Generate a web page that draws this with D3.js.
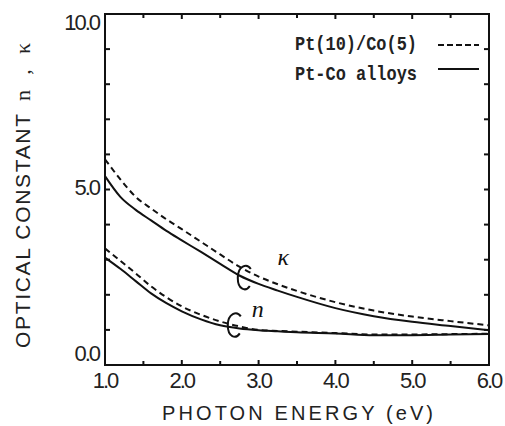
<!DOCTYPE html>
<html><head><meta charset="utf-8">
<script src="https://cdn.jsdelivr.net/npm/d3@7"></script>
<style>body{margin:0;background:#fff}svg{display:block}</style>
</head><body>
<script>
const energy = [1.0,1.2,1.4,1.6,1.8,2.0,2.25,2.5,2.75,3.0,3.25,3.5,4.0,4.5,5.0,5.5,6.0];
const kappaMultilayer = [5.86,5.29,4.79,4.46,4.15,3.87,3.51,3.15,2.80,2.52,2.30,2.11,1.79,1.55,1.38,1.25,1.13];
const kappaAlloy      = [5.38,4.79,4.42,4.12,3.82,3.55,3.22,2.88,2.55,2.31,2.12,1.94,1.62,1.39,1.23,1.11,0.99];
const nMultilayer     = [3.32,2.97,2.61,2.24,1.93,1.67,1.43,1.24,1.10,1.00,0.97,0.95,0.91,0.87,0.87,0.88,0.89];
const nAlloy          = [3.06,2.74,2.39,2.04,1.76,1.53,1.30,1.13,1.04,0.99,0.96,0.93,0.90,0.85,0.85,0.87,0.88];
const xTickLabels = ["1.0","2.0","3.0","4.0","5.0","6.0"];
const yTickLabels = ["0.0","5.0","10.0"];
const legendLabels = ["Pt(10)/Co(5)","Pt-Co alloys"];
const curveLabels = [{t:"κ", e:3.32, v:3.08}, {t:"n", e:2.99, v:1.62}];
const brackets = [{e:2.82, v:2.48}, {e:2.69, v:1.13}];

const W=505,H=426;
const svg=d3.select("body").append("svg").attr("width",W).attr("height",H);
const x=d3.scaleLinear().domain([1,6]).range([105,489]);
const y=d3.scaleLinear().domain([0,10]).range([365,14]);
const yLab=d3.scaleLinear().domain([0,10]).range([353,22]);
const sansFont="'Liberation Sans', Arial, sans-serif";

// frame
svg.append("rect").attr("x",x(1)).attr("y",y(10)).attr("width",x(6)-x(1)).attr("height",y(0)-y(10))
  .attr("fill","none").attr("stroke","#111").attr("stroke-width",2);

// ticks
const xt=d3.range(1.5,6,0.5);
xt.forEach(v=>{
  const L = Number.isInteger(v)?5:4;
  svg.append("line").attr("x1",x(v)).attr("x2",x(v)).attr("y1",y(0)).attr("y2",y(0)-L).attr("stroke","#111").attr("stroke-width",2);
  svg.append("line").attr("x1",x(v)).attr("x2",x(v)).attr("y1",y(10)).attr("y2",y(10)+L).attr("stroke","#111").attr("stroke-width",2);
});
d3.range(1,10,1).forEach(v=>{
  svg.append("line").attr("x1",x(1)).attr("x2",x(1)+5).attr("y1",y(v)).attr("y2",y(v)).attr("stroke","#111").attr("stroke-width",2);
  svg.append("line").attr("x1",x(6)).attr("x2",x(6)-5).attr("y1",y(v)).attr("y2",y(v)).attr("stroke","#111").attr("stroke-width",2);
});

// tick labels
svg.selectAll(".xl").data(xTickLabels).enter().append("text")
  .attr("x",d=>x(+d)).attr("y",388).attr("text-anchor","middle")
  .attr("font-family",sansFont).attr("font-size",22).attr("letter-spacing",-2).attr("fill","#222").text(d=>d);
svg.selectAll(".yl").data(yTickLabels).enter().append("text")
  .attr("x",99).attr("y",d=>yLab(+d)).attr("dy","0.36em").attr("text-anchor","end")
  .attr("font-family",sansFont).attr("font-size",22).attr("letter-spacing",-2).attr("fill","#222").text(d=>d);

// axis titles
svg.append("text").attr("x",162).attr("y",420).attr("font-family",sansFont).attr("font-size",20)
  .attr("textLength",271).attr("lengthAdjust","spacing").attr("fill","#222").text("PHOTON  ENERGY  (eV)");
const yt=svg.append("g").attr("transform","translate(30,0) rotate(-90)");
yt.append("text").attr("x",-348).attr("y",0).attr("font-family",sansFont).attr("font-size",21)
  .attr("textLength",234).attr("lengthAdjust","spacing").attr("fill","#222").text("OPTICAL  CONSTANT");
yt.append("text").attr("x",-101).attr("y",0).attr("font-family","'Liberation Serif', serif").attr("font-size",22)
  .attr("textLength",58).attr("lengthAdjust","spacing").attr("fill","#222").text("n , κ");

// curves
const line=d3.line().x(d=>x(d[0])).y(d=>y(d[1])).curve(d3.curveMonotoneX);
const series=[
  {v:kappaMultilayer,dash:"6,4"},{v:kappaAlloy,dash:null},
  {v:nMultilayer,dash:"6,4"},{v:nAlloy,dash:null}];
series.forEach(s=>{
  svg.append("path").datum(energy.map((e,i)=>[e,s.v[i]])).attr("d",line)
    .attr("fill","none").attr("stroke","#111").attr("stroke-width",2)
    .attr("stroke-dasharray",s.dash);
});

// brackets
brackets.forEach(b=>{
  const cx=x(b.e), cy=y(b.v);
  const p=d3.path();
  p.moveTo(cx+6,cy-9);
  p.bezierCurveTo(cx+2,cy-15,cx-7,cy-12,cx-7,cy);
  p.bezierCurveTo(cx-7,cy+12,cx+1,cy+14,cx+5,cy+8);
  svg.append("path").attr("d",p.toString()).attr("fill","none").attr("stroke","#111").attr("stroke-width",2);
});

// curve labels
svg.selectAll(".cl").data(curveLabels).enter().append("text")
  .attr("x",d=>x(d.e)).attr("y",d=>y(d.v)).attr("dy","0.35em").attr("text-anchor","middle")
  .attr("font-family","'Liberation Serif', serif").attr("font-style","italic").attr("font-size",24)
  .attr("fill","#111").text(d=>d.t);

// legend
const monoFont="'Liberation Mono', 'DejaVu Sans Mono', monospace";
legendLabels.forEach((t,i)=>{
  const by = i===0 ? 50 : 80;
  svg.append("text").attr("x",295).attr("y",by).attr("font-family",monoFont).attr("font-size",17)
    .attr("font-weight","bold").attr("textLength",122).attr("lengthAdjust","spacingAndGlyphs")
    .attr("transform",`translate(0,${by}) scale(1,1.2) translate(0,${-by})`)
    .attr("fill","#222").text(t);
  svg.append("line").attr("x1",438).attr("x2",479).attr("y1",i===0?45:69).attr("y2",i===0?45:69)
    .attr("stroke","#111").attr("stroke-width",2).attr("stroke-dasharray",i===0?"6,3":null);
});
</script>
</body></html>
